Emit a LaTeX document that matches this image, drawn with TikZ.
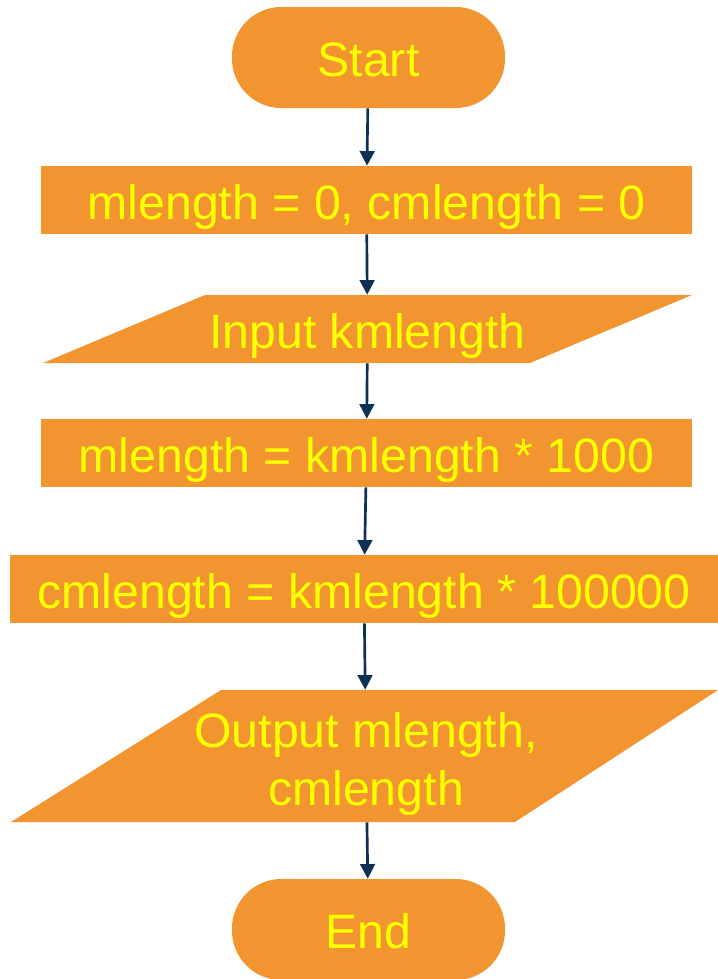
\documentclass[tikz,border=0pt]{standalone}
\usepackage{fontspec}
\setmainfont{Liberation Sans}
\usetikzlibrary{arrows.meta}
\definecolor{flowfill}{RGB}{242,148,48}
\definecolor{flowtext}{RGB}{255,255,0}
\definecolor{flowline}{RGB}{13,49,84}

\begin{document}
\begin{tikzpicture}[x=0.75pt,y=-0.75pt,
  every node/.style={text=flowtext,font=\fontsize{36.2}{43.5}\selectfont,inner sep=0pt},
  line/.style={text height=28.6pt,text depth=0pt},
  term/.style={line,fill=flowfill,rounded corners=37pt,minimum width=204.75pt,minimum height=75.75pt},
  proc/.style={line,fill=flowfill,minimum width=488.25pt,minimum height=51pt},
  flow/.style={draw=flowline,line width=2pt,-{Triangle[length=11pt,width=11pt]}}]
\useasboundingbox (0,0) rectangle (718,979);

% start / init
\node (start) [term] at (368.5,57.5) {Start};
\node (init) [proc] at (366.5,200) {mlength = 0, cmlength = 0};

% input
\fill [flowfill] (43,363)--(205,295)--(692,295)--(530,363)--cycle;
\node (input) [line,minimum height=51pt] at (367.5,329) {Input kmlength};

% conversions
\node (tom) [proc] at (366.5,453) {mlength = kmlength * 1000};
\node (tocm) [proc,minimum width=531pt] at (364,589) {cmlength = kmlength * 100000};

% output
\fill [flowfill] (11,822)--(221,690)--(718,690)--(515,822)--cycle;
\node (output) [minimum height=99pt,align=center,text height=73.5pt,text depth=0pt]
  at (366,756) {Output mlength,\\cmlength};

\node (stop) [term] at (368.5,929.5) {End};

\draw [flow] (start) -- (init);
\draw [flow] (init) -- (input);
\draw [flow] (input) -- (tom);
\draw [flow] (tom) -- (tocm);
\draw [flow] (tocm) -- (output);
\draw [flow] (output) -- (stop);
\end{tikzpicture}
\end{document}
